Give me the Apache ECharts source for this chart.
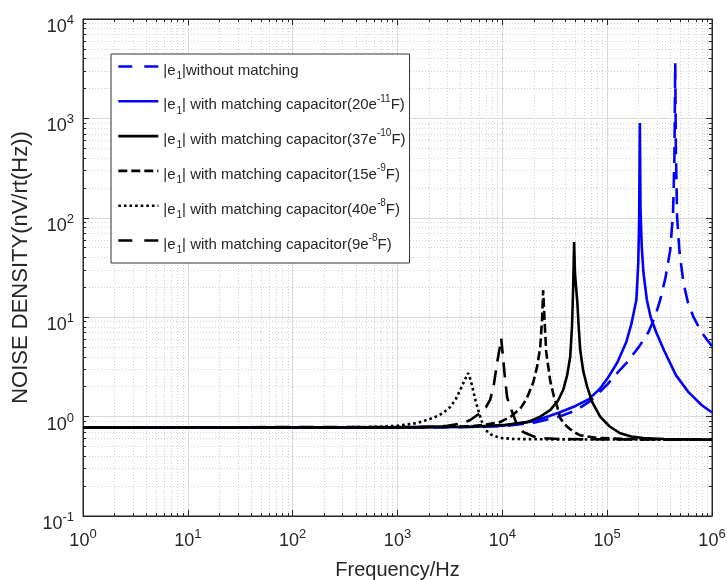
<!DOCTYPE html>
<html><head><meta charset="utf-8">
<script src="https://cdn.jsdelivr.net/npm/echarts@6/dist/echarts.min.js"></script>
<style>html,body{margin:0;padding:0;background:#fff}#c{width:727px;height:580px}</style>
</head><body><div id="c"></div>
<script>
// ---------- data ----------
const seriesNames = [
  '|e1|without matching',
  '|e1| with matching capacitor(20e-11F)',
  '|e1| with matching capacitor(37e-10F)',
  '|e1| with matching capacitor(15e-9F)',
  '|e1| with matching capacitor(40e-8F)',
  '|e1| with matching capacitor(9e-8F)'
];
const legendLabels = [
  '{b||e}{sub|1}{b||without matching}',
  '{b||e}{sub|1}{b|| with matching capacitor(20e}{sup|-11}{b|F)}',
  '{b||e}{sub|1}{b|| with matching capacitor(37e}{sup|-10}{b|F)}',
  '{b||e}{sub|1}{b|| with matching capacitor(15e}{sup|-9}{b|F)}',
  '{b||e}{sub|1}{b|| with matching capacitor(40e}{sup|-8}{b|F)}',
  '{b||e}{sub|1}{b|| with matching capacitor(9e}{sup|-8}{b|F)}'
];
const xTickExps = [0, 1, 2, 3, 4, 5, 6];
const yTickExps = [-1, 0, 1, 2, 3, 4];
const xLabel = 'Frequency/Hz';
const yLabel = 'NOISE DENSITY(nV/rt(Hz))';

const fNoMatch = [1, 1000, 5000, 10000, 20000, 35000, 50000, 70000, 100000, 125000, 154000, 200000, 248000, 285000, 321000, 360000, 399000, 425000, 438000, 446000, 452000, 465000, 490000, 535000, 590000, 667000, 780000, 890000, 1000000];
const vNoMatch = [0.78, 0.78, 0.785, 0.80, 0.87, 1.0, 1.15, 1.45, 2.1, 2.75, 3.5, 5.0, 7.1, 10, 15, 25, 47, 110, 400, 3600, 500, 100, 45, 22, 14, 10, 7.3, 6, 5.1];

const f20 = [1, 1000, 5000, 10000, 20000, 35000, 50000, 67000, 85000, 104000, 125000, 152000, 170000, 182000, 190000, 198000, 202000, 205000, 208000, 214000, 222000, 239000, 260000, 293000, 350000, 454000, 600000, 800000, 1000000];
const v20 = [0.78, 0.78, 0.79, 0.81, 0.9, 1.1, 1.28, 1.5, 1.9, 2.55, 3.5, 5.6, 8.5, 12, 15, 35, 100, 900, 120, 50, 28, 15, 10, 7.1, 4.6, 2.6, 1.75, 1.3, 1.1];

const f37 = [1, 1000, 5000, 10000, 17300, 23000, 28600, 34000, 38000, 41500, 44400, 46200, 47400, 48400, 49300, 50500, 51800, 53500, 55300, 59000, 64400, 72000, 85700, 105000, 133000, 170000, 221000, 350000, 1000000];
const v37 = [0.78, 0.78, 0.79, 0.82, 0.88, 1.0, 1.16, 1.45, 1.85, 2.6, 4.0, 8, 20, 57, 28, 20, 14.8, 8, 4.7, 2.9, 2.0, 1.4, 1.0, 0.8, 0.68, 0.63, 0.61, 0.595, 0.585];

const f15 = [1, 1000, 3000, 5000, 7000, 9500, 11900, 14800, 17000, 19700, 21500, 23000, 24000, 24500, 25200, 26200, 28600, 31000, 33400, 36000, 41500, 48000, 55000, 80000, 150000, 1000000];
const v15 = [0.78, 0.78, 0.79, 0.8, 0.83, 0.88, 0.99, 1.2, 1.5, 2.2, 3.2, 5, 10, 18.7, 10, 4.5, 2.3, 1.6, 1.25, 0.95, 0.79, 0.7, 0.65, 0.61, 0.595, 0.585];

const f40 = [1, 300, 700, 1000, 1540, 2190, 2700, 3180, 3600, 3960, 4350, 4720, 5000, 5260, 5550, 5880, 6300, 6850, 7800, 9500, 13000, 30000, 1000000];
const v40 = [0.78, 0.782, 0.79, 0.81, 0.86, 0.97, 1.08, 1.25, 1.5, 1.85, 2.3, 2.74, 2.3, 1.85, 1.45, 1.17, 0.92, 0.74, 0.66, 0.61, 0.595, 0.59, 0.585];

const f9 = [1, 1000, 2000, 3000, 4000, 4900, 6100, 7000, 7650, 8300, 8900, 9400, 9750, 10100, 10500, 11100, 11900, 13500, 15800, 21500, 35000, 100000, 1000000];
const v9 = [0.78, 0.785, 0.79, 0.81, 0.85, 0.92, 1.08, 1.25, 1.47, 2.1, 3.45, 4.8, 6.15, 4.2, 2.7, 1.57, 1.25, 0.88, 0.70, 0.61, 0.595, 0.59, 0.585];

// ---------- styles ----------
const font = "'Liberation Sans', Arial, Helvetica, sans-serif";
const txt = '#262626';
const seriesColors = ['#0000ff', '#0000ff', '#000000', '#000000', '#000000', '#000000'];
const seriesDash = [[16, 9], 'solid', 'solid', [9, 4], [2.6, 3], [15, 9]];
const legendDash = [[14, 12], 'solid', 'solid', [9, 4], [2.6, 3], [14, 12]];

const pairs = (f, v) => f.map((x, i) => [x, v[i]]);
const allData = [pairs(fNoMatch, vNoMatch), pairs(f20, v20), pairs(f37, v37), pairs(f15, v15), pairs(f40, v40), pairs(f9, v9)];

// minor tick positions (in log10 space, for linear helper axes)
const minorX = [], minorY = [];
for (let e = 0; e < 6; e++) for (let k = 2; k <= 9; k++) minorX.push(e + Math.log10(k));
for (let e = -1; e < 4; e++) for (let k = 2; k <= 9; k++) minorY.push(e + Math.log10(k));

function mkRich(padSup, padBase) {
  return {
    b: { fontSize: 18, lineHeight: 18, padding: [padBase, 0, 0, 0], verticalAlign: 'top', color: txt, fontFamily: font },
    sup: { fontSize: 13, lineHeight: 13, padding: [padSup, 0, 0, 0], verticalAlign: 'top', color: txt, fontFamily: font }
  };
}
const expLabel = v => '{b|10}{sup|' + Math.round(Math.log10(v)) + '}';

function majorAxis(pos, min, max, isMain, name, nameGap, margin, rich, nameSize) {
  return {
    type: 'log', logBase: 10, min: min, max: max, interval: 1, position: pos,
    name: isMain ? name : '', nameLocation: 'middle', nameGap: nameGap,
    nameTextStyle: { fontSize: nameSize || 20, color: txt, fontFamily: font },
    axisLine: { show: true, onZero: false, lineStyle: { color: txt, width: 1 } },
    axisTick: { show: true, inside: true, length: 6, lineStyle: { color: txt, width: 1 } },
    axisLabel: { show: isMain, margin: margin, formatter: expLabel, rich: rich },
    splitLine: { show: isMain, lineStyle: { color: '#dadada', width: 1 } },
    z: 3
  };
}
function minorAxis(pos, min, max, vals, showSplit) {
  return {
    type: 'value', min: min, max: max, interval: 1, position: pos,
    axisLine: { show: false, onZero: false },
    axisTick: { show: true, inside: true, length: 3, customValues: vals, lineStyle: { color: txt, width: 1 } },
    axisLabel: { show: false },
    splitLine: { show: showSplit, lineStyle: { color: '#d2d2d2', width: 1, type: [1, 2] } },
    z: 1
  };
}

const legendRich = {
  b: { fontSize: 15, lineHeight: 15, padding: [4, 0, 0, 0], verticalAlign: 'top', color: txt, fontFamily: font },
  sub: { fontSize: 10, lineHeight: 10, padding: [12, 0, 0, 1], verticalAlign: 'top', color: txt, fontFamily: font },
  sup: { fontSize: 10, lineHeight: 10, padding: [0, 0, 0, 0], verticalAlign: 'top', color: txt, fontFamily: font }
};

const chart = echarts.init(document.getElementById('c'), null, { renderer: 'canvas' });
chart.setOption({
  animation: false,
  backgroundColor: '#fff',
  grid: { left: 83, right: 15, top: 19, bottom: 64, outerBoundsMode: 'none', containLabel: false,
          show: true, borderColor: txt, borderWidth: 1, backgroundColor: 'transparent' },
  xAxis: [
    majorAxis('bottom', 1, 1e6, true, xLabel, 44, 12, mkRich(0, 4), 20),
    majorAxis('top', 1, 1e6, false, '', 0, 9, mkRich(0, 4)),
    minorAxis('bottom', 0, 6, minorX, true),
    minorAxis('top', 0, 6, minorX, false)
  ],
  yAxis: [
    majorAxis('left', 0.1, 1e4, true, yLabel, 50, 9, mkRich(4, 8), 22),
    majorAxis('right', 0.1, 1e4, false, '', 0, 9, mkRich(4, 8)),
    minorAxis('left', -1, 4, minorY, true),
    minorAxis('right', -1, 4, minorY, false)
  ],
  legend: {
    orient: 'vertical', left: 111, top: 54, padding: [5, 4, 8, 6],
    itemGap: 12.8, itemWidth: 40, itemHeight: 14,
    backgroundColor: '#fff', borderColor: '#333', borderWidth: 1,
    selectedMode: false,
    itemStyle: { opacity: 0, borderWidth: 0 },
    data: seriesNames.map((n, i) => ({
      name: n,
      itemStyle: { opacity: 0, borderWidth: 0, color: 'transparent' },
      lineStyle: { color: seriesColors[i], width: 2.6, type: legendDash[i] }
    })),
    formatter: n => legendLabels[seriesNames.indexOf(n)],
    textStyle: { rich: legendRich, fontFamily: font, fontSize: 15, color: txt }
  },
  series: seriesNames.map((n, i) => ({
    name: n, type: 'line', xAxisIndex: 0, yAxisIndex: 0,
    data: allData[i], symbol: 'none', showSymbol: false, smooth: false,
    lineStyle: { color: seriesColors[i], width: 2.6, type: seriesDash[i] },
    itemStyle: { color: seriesColors[i] },
    z: 5
  }))
});
</script></body></html>
